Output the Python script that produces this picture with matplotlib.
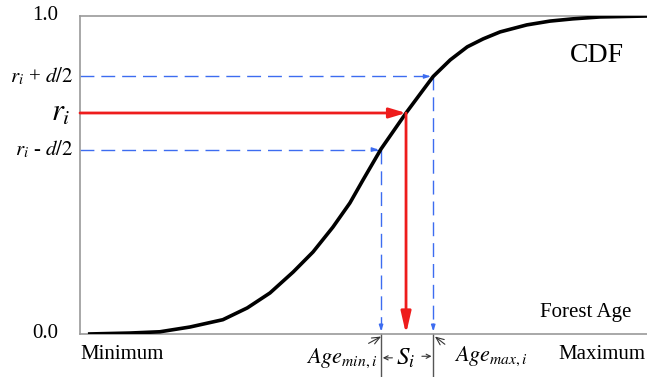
import matplotlib
matplotlib.use('Agg')
import matplotlib.pyplot as plt
import numpy as np

plt.rcParams['font.family'] = ['Liberation Serif', 'DejaVu Serif']
plt.rcParams['mathtext.fontset'] = 'stix'

# CDF of forest age (age in % of the range)
age = [1.4, 8.8, 14.1, 19.4, 25.2, 29.5, 33.5, 37.6, 41.1, 44.6, 47.6, 49.9,
       53.1, 57.5, 60.5, 62.3, 65.3, 68.3, 71.1, 74.1, 78.8, 82.9, 86.9, 91.7, 100]
cdf = [0, 0.003, 0.007, 0.022, 0.045, 0.082, 0.129, 0.195, 0.258, 0.336, 0.412, 0.484,
       0.582, 0.695, 0.767, 0.81, 0.862, 0.903, 0.928, 0.950, 0.972, 0.984, 0.991, 0.997, 1.0]

r_i = 0.695
d = 0.23
age_r = 57.5
age_min = 53.1
age_max = 62.3

blue = '#3d6cf0'
red = '#ee1c1c'
grey = '#9a9a9a'

fig = plt.figure(figsize=(6.47, 3.77), dpi=100)
ax = fig.add_axes([80 / 647, 43 / 377, 567 / 647, 318 / 377])
ax.set_xlim(0, 100)
ax.set_ylim(0, 1)
ax.set_xticks([])
ax.set_yticks([])
for s in ['left', 'bottom', 'top']:
    ax.spines[s].set_color(grey)
    ax.spines[s].set_linewidth(1.2)
ax.spines['right'].set_visible(False)

ax.plot(age, cdf, color='black', lw=2.6, solid_capstyle='butt', zorder=3)

# blue dashed guides r_i +/- d/2
dash = dict(color=blue, lw=1.0, dashes=(10, 5))
ax.plot([0, age_max], [r_i + d / 2, r_i + d / 2], **dash)
ax.plot([0, age_min], [r_i - d / 2, r_i - d / 2], **dash)
ax.plot([age_max, age_max], [r_i + d / 2, 0.015], **dash)
ax.plot([age_min, age_min], [r_i - d / 2, 0.015], **dash)
small = dict(arrowstyle='-|>,head_length=0.35,head_width=0.12', color=blue, lw=1.0)
for xa, ya in [(age_max, r_i + d / 2), (age_min, r_i - d / 2)]:
    ax.annotate('', xy=(xa, ya), xytext=(xa - 1.5, ya), arrowprops=small)
    ax.annotate('', xy=(xa, 0), xytext=(xa, 0.04), arrowprops=small)

# red arrows r_i -> age
ax.annotate('', xy=(age_r, r_i), xytext=(0, r_i),
            arrowprops=dict(arrowstyle='-|>,head_length=1.0,head_width=0.3',
                            color=red, lw=2.0, shrinkA=0, shrinkB=0), zorder=4)
ax.annotate('', xy=(age_r, 0), xytext=(age_r, r_i),
            arrowprops=dict(arrowstyle='-|>,head_length=1.3,head_width=0.3',
                            color=red, lw=2.0, shrinkA=0, shrinkB=0), zorder=4)

# y labels
ylab = [(1.0, '1.0', -16, 15), (r_i + d / 2, '$r_i$ + $d/2$', -5, 15),
        (r_i, '$r_i$', -7, 22), (r_i - d / 2, '$r_i$ - $d/2$', -5, 15), (0.0, '0.0', -16, 15)]
for yv, txt, off, fs in ylab:
    ax.annotate(txt, xy=(0, yv), xycoords=('axes fraction', 'data'),
                xytext=(off, 0), textcoords='offset points',
                ha='right', va='center', fontsize=fs, annotation_clip=False)

ax.text(0, -0.066, 'Minimum', ha='left', va='center', fontsize=15, clip_on=False)
ax.text(84.3, -0.066, 'Maximum', ha='left', va='center', fontsize=15, clip_on=False)
ax.text(81.1, 0.069, 'Forest Age', ha='left', va='center', fontsize=15)
ax.text(86.4, 0.877, 'CDF', ha='left', va='center', fontsize=20)

# bracket under the axis
for xv in [age_min, age_max]:
    ax.plot([xv, xv], [0, -0.14], color='#555555', lw=1.0, clip_on=False)
ax.text(age_r, -0.075, '$S_i$', ha='center', va='center', fontsize=18, clip_on=False)
tiny = dict(arrowstyle='->,head_length=0.3,head_width=0.15', color='#333333', lw=0.8,
            shrinkA=0, shrinkB=0)
ax.annotate('', xy=(age_min + 0.3, -0.075), xytext=(age_min + 2.0, -0.075),
            arrowprops=tiny, annotation_clip=False)
ax.annotate('', xy=(age_max - 0.3, -0.07), xytext=(age_max - 2.0, -0.07),
            arrowprops=tiny, annotation_clip=False)

ax.annotate('$Age_{min,i}$', xy=(age_min, -0.008), xytext=(age_min - 0.6, -0.075),
            ha='right', va='center', fontsize=16, annotation_clip=False,
            arrowprops=dict(arrowstyle='->,head_length=0.35,head_width=0.15',
                            color='#333333', lw=0.8, shrinkA=14, shrinkB=0))
ax.annotate('$Age_{max,i}$', xy=(age_max + 0.3, -0.008), xytext=(age_max + 3.7, -0.07),
            ha='left', va='center', fontsize=16, annotation_clip=False,
            arrowprops=dict(arrowstyle='->,head_length=0.35,head_width=0.15',
                            color='#333333', lw=0.8, shrinkA=6, shrinkB=0,
                            relpos=(0, 0.7)))

fig.savefig('out.png', dpi=100)
